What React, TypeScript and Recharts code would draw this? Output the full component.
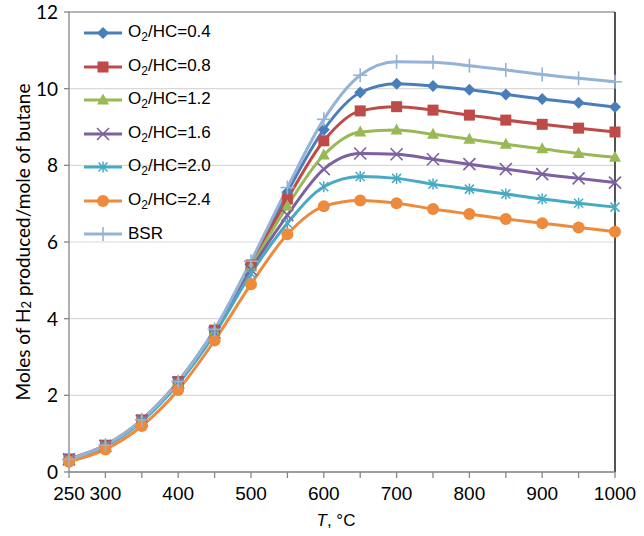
import React from 'react';
import { LineChart, Line, XAxis, YAxis, CartesianGrid, ReferenceLine, Legend } from 'recharts';

const temperatures = [250, 300, 350, 400, 450, 500, 550, 600, 650, 700, 750, 800, 850, 900, 950, 1000];
const ratio04 = [0.33, 0.69, 1.35, 2.35, 3.70, 5.42, 7.30, 8.93, 9.90, 10.13, 10.07, 9.97, 9.85, 9.73, 9.63, 9.52];
const ratio08 = [0.34, 0.70, 1.36, 2.36, 3.70, 5.40, 7.12, 8.64, 9.42, 9.53, 9.44, 9.31, 9.18, 9.07, 8.97, 8.87];
const ratio12 = [0.33, 0.69, 1.35, 2.34, 3.67, 5.35, 6.94, 8.27, 8.87, 8.92, 8.81, 8.68, 8.55, 8.43, 8.31, 8.21];
const ratio16 = [0.33, 0.68, 1.34, 2.33, 3.64, 5.28, 6.70, 7.90, 8.31, 8.29, 8.16, 8.03, 7.90, 7.77, 7.66, 7.55];
const ratio20 = [0.32, 0.67, 1.32, 2.30, 3.60, 5.18, 6.49, 7.44, 7.71, 7.66, 7.51, 7.38, 7.25, 7.12, 7.01, 6.91];
const ratio24 = [0.27, 0.59, 1.20, 2.14, 3.43, 4.90, 6.20, 6.93, 7.08, 7.01, 6.86, 6.73, 6.60, 6.49, 6.38, 6.27];
const bsr = [0.33, 0.70, 1.36, 2.36, 3.72, 5.50, 7.42, 9.20, 10.35, 10.70, 10.69, 10.60, 10.49, 10.37, 10.27, 10.18];

const xTicks = [250, 300, 350, 400, 450, 500, 550, 600, 650, 700, 750, 800, 850, 900, 950, 1000];
const xLabelledTicks = [250, 300, 400, 500, 600, 700, 800, 900, 1000];
const yTicks = [0, 2, 4, 6, 8, 10, 12];

type MarkerType = 'diamond' | 'square' | 'triangle' | 'cross' | 'star' | 'circle' | 'plus';

const seriesDefs: { key: string; ratio?: string; label?: string; values: number[]; color: string; marker: MarkerType }[] = [
  { key: 's04', ratio: '0.4', values: ratio04, color: '#4A7EBB', marker: 'diamond' },
  { key: 's08', ratio: '0.8', values: ratio08, color: '#BE4B48', marker: 'square' },
  { key: 's12', ratio: '1.2', values: ratio12, color: '#98B954', marker: 'triangle' },
  { key: 's16', ratio: '1.6', values: ratio16, color: '#7D60A0', marker: 'cross' },
  { key: 's20', ratio: '2.0', values: ratio20, color: '#46AAC5', marker: 'star' },
  { key: 's24', ratio: '2.4', values: ratio24, color: '#EE8A3C', marker: 'circle' },
  { key: 'bsr', label: 'BSR', values: bsr, color: '#95B3D7', marker: 'plus' },
];

const data = temperatures.map((t, i) => {
  const row: Record<string, number> = { T: t };
  seriesDefs.forEach((s) => {
    row[s.key] = s.values[i];
  });
  return row;
});

function Marker({ type, cx, cy, color }: { type: MarkerType; cx: number; cy: number; color: string }) {
  if (cx == null || cy == null) return null;
  switch (type) {
    case 'diamond':
      return <polygon points={`${cx},${cy - 6} ${cx + 6},${cy} ${cx},${cy + 6} ${cx - 6},${cy}`} fill={color} />;
    case 'square':
      return <rect x={cx - 5.5} y={cy - 5.5} width={11} height={11} fill={color} />;
    case 'triangle':
      return <polygon points={`${cx},${cy - 6.5} ${cx + 6},${cy + 4.5} ${cx - 6},${cy + 4.5}`} fill={color} />;
    case 'cross':
      return (
        <g stroke={color} strokeWidth={1.6}>
          <line x1={cx - 6} y1={cy - 6} x2={cx + 6} y2={cy + 6} />
          <line x1={cx - 6} y1={cy + 6} x2={cx + 6} y2={cy - 6} />
        </g>
      );
    case 'star':
      return (
        <g stroke={color} strokeWidth={1.5}>
          <line x1={cx - 4.5} y1={cy - 4.5} x2={cx + 4.5} y2={cy + 4.5} />
          <line x1={cx - 4.5} y1={cy + 4.5} x2={cx + 4.5} y2={cy - 4.5} />
          <line x1={cx} y1={cy - 5.5} x2={cx} y2={cy + 5.5} />
        </g>
      );
    case 'circle':
      return <circle cx={cx} cy={cy} r={6} fill={color} />;
    case 'plus':
    default:
      return (
        <g stroke={color} strokeWidth={1.6}>
          <line x1={cx - 7} y1={cy} x2={cx + 7} y2={cy} />
          <line x1={cx} y1={cy - 7} x2={cx} y2={cy + 7} />
        </g>
      );
  }
}

function LegendContent() {
  return (
    <div style={{ fontFamily: '"Liberation Sans", Arial, sans-serif', fontSize: 17, color: '#000' }}>
      {seriesDefs.map((s) => (
        <div key={s.key} style={{ height: 33.5, display: 'flex', alignItems: 'center' }}>
          <svg width={38} height={16} style={{ display: 'block', overflow: 'visible' }}>
            <line x1={0} y1={8} x2={38} y2={8} stroke={s.color} strokeWidth={3} />
            <Marker type={s.marker} cx={19} cy={8} color={s.color} />
          </svg>
          <span style={{ marginLeft: 6, whiteSpace: 'nowrap' }}>
            {s.ratio ? (
              <>
                O<sub style={{ fontSize: 12, verticalAlign: -4 }}>2</sub>/HC={s.ratio}
              </>
            ) : (
              s.label
            )}
          </span>
        </div>
      ))}
    </div>
  );
}

function XTick(props: any) {
  const { x, y, payload } = props;
  const v = payload.value;
  if (!xLabelledTicks.includes(v)) return null;
  return (
    <text x={x} y={y} dy={20} textAnchor="middle" fill="#000" fontSize={19} fontFamily='"Liberation Sans", Arial, sans-serif'>
      {v}
    </text>
  );
}

function YTick(props: any) {
  const { x, y, payload } = props;
  return (
    <text x={x} y={y} dy={7} textAnchor="end" fill="#000" fontSize={19} fontFamily='Lato, "Open Sans", sans-serif'>
      {payload.value}
    </text>
  );
}

function XTitle(props: any) {
  const vb = props.viewBox || {};
  const cx = (vb.x ?? 69) + (vb.width ?? 546) / 2 - 6;
  return (
    <text x={cx} y={526} textAnchor="middle" fill="#000" fontSize={17} fontFamily='"Liberation Sans", Arial, sans-serif'>
      <tspan fontStyle="italic">T</tspan>
      <tspan>, °C</tspan>
    </text>
  );
}

function YTitle(props: any) {
  const vb = props.viewBox || {};
  const cy = (vb.y ?? 12) + (vb.height ?? 460) / 2;
  const cx = 22;
  return (
    <text x={cx} y={cy} transform={`rotate(-90, ${cx}, ${cy})`} textAnchor="middle" dominantBaseline="central" fill="#000" fontSize={19} fontFamily='Lato, "Open Sans", sans-serif'>
      <tspan>Moles of H</tspan>
      <tspan fontSize={13} dy={4}>2</tspan>
      <tspan dy={-4}> produced/mole of butane</tspan>
    </text>
  );
}

export default function App() {
  return (
    <div style={{ position: 'absolute', left: 0, top: 0, width: 644, height: 536, background: '#fff' }}>
      <LineChart width={644} height={536} data={data} margin={{ top: 12, right: 29, left: 0, bottom: 0 }}>
        <CartesianGrid vertical={false} stroke="#D9D9D9" strokeWidth={1.2} />
        <XAxis
          dataKey="T"
          type="number"
          domain={[250, 1000]}
          ticks={xTicks}
          interval={0}
          height={64}
          tickSize={6}
          tickMargin={2}
          axisLine={{ stroke: '#868686', strokeWidth: 1.3 }}
          tickLine={{ stroke: '#868686', strokeWidth: 1.3 }}
          tick={<XTick />}
          label={{ content: <XTitle /> }}
        />
        <YAxis
          type="number"
          domain={[0, 12]}
          ticks={yTicks}
          interval={0}
          width={69}
          tickSize={5}
          tickMargin={6}
          axisLine={{ stroke: '#868686', strokeWidth: 1.3 }}
          tickLine={{ stroke: '#868686', strokeWidth: 1.3 }}
          tick={<YTick />}
          label={{ content: <YTitle /> }}
        />
        <ReferenceLine y={12} stroke="#7F7F7F" strokeWidth={1.2} />
        <ReferenceLine x={1000} stroke="#1A1A1A" strokeWidth={1.5} />
        <Legend
          layout="vertical"
          align="center"
          verticalAlign="middle"
          wrapperStyle={{ left: 84, top: 16.5, width: 200 }}
          content={<LegendContent />}
        />
        {seriesDefs.map((s) => (
          <Line
            key={s.key}
            dataKey={s.key}
            name={s.ratio ? `O2/HC=${s.ratio}` : s.label}
            type="monotone"
            stroke={s.color}
            strokeWidth={3}
            isAnimationActive={false}
            activeDot={false}
            dot={(p: any) => <Marker key={`${s.key}-${p.index}`} type={s.marker} cx={p.cx} cy={p.cy} color={s.color} />}
          />
        ))}
      </LineChart>
    </div>
  );
}
